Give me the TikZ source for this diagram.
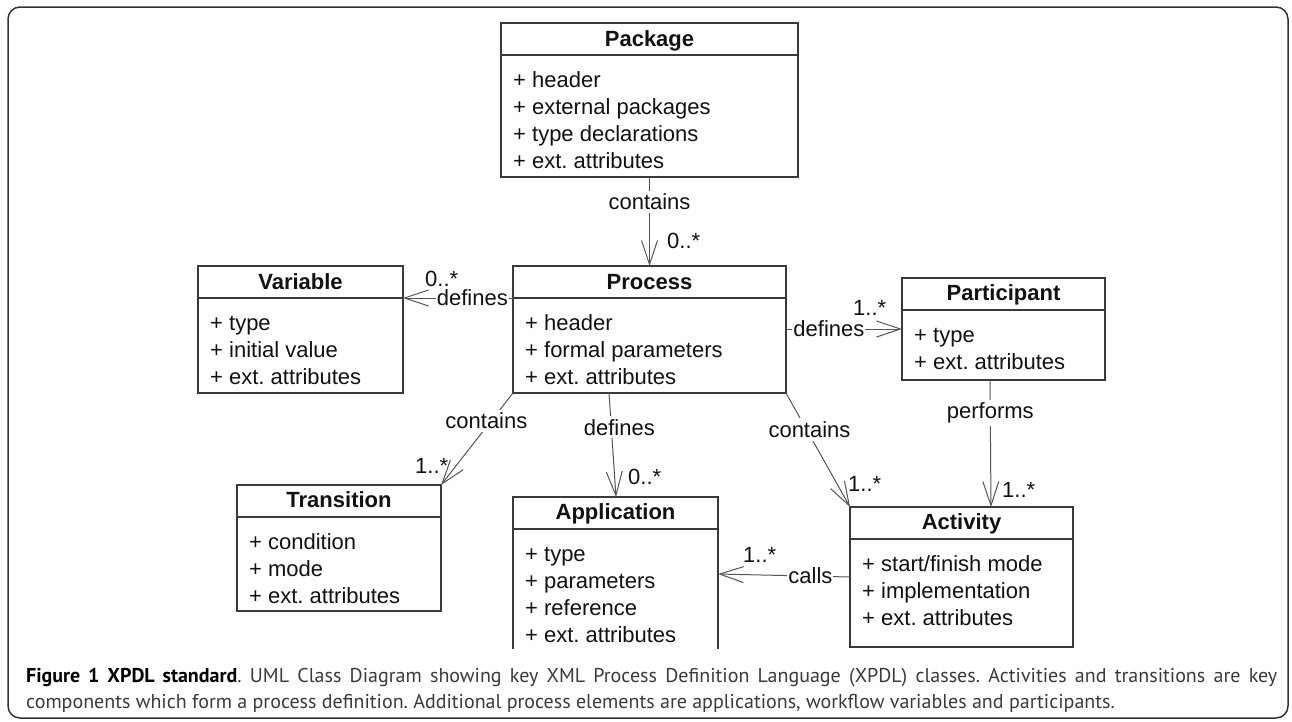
\documentclass[tikz,border=0pt]{standalone}
\usepackage{fontspec}
\setmainfont{Liberation Sans}
\newfontfamily\capfont{PT Sans}
\usetikzlibrary{arrows.meta}
\definecolor{boxcol}{HTML}{3A3A3A}
\definecolor{conncol}{HTML}{555555}
\definecolor{txtcol}{HTML}{111111}
\definecolor{framecol}{HTML}{333333}
\definecolor{capcol}{HTML}{3A3A3A}
\newcommand\umlitems[2]{%
  \foreach \t [count=\i] in {#2}
    \node[itemtxt] at ([xshift=12pt,yshift={-37pt-27pt*\i}]#1.north west) {\t};}
\begin{document}
\frenchspacing
\begin{tikzpicture}[x=1pt,y=-1pt,
  diafont/.style={font=\fontsize{22}{26}\selectfont},
  classbox/.style={draw=boxcol, line width=1.2pt, inner sep=0pt, outer sep=0pt, anchor=north west},
  openbox/.style={inner sep=0pt, outer sep=0pt, anchor=north west},
  boxline/.style={draw=boxcol, line width=1.2pt},
  titletxt/.style={diafont, font=\fontsize{22}{26}\selectfont\bfseries, anchor=base, inner sep=0pt, text=txtcol},
  itemtxt/.style={diafont, anchor=base west, inner sep=0pt, text=txtcol},
  conn/.style={draw=conncol, line width=1pt, -{Straight Barb[length=24pt,width=16pt]}},
  lbl/.style={diafont, fill=white, inner xsep=1.5pt, inner ysep=3pt, text=txtcol},
  hlbl/.style={diafont, fill=white, inner xsep=1pt, inner ysep=1pt, anchor=base, yshift=-7pt, text=txtcol},
  mult/.style={diafont, anchor=base west, inner sep=0pt, text=txtcol},
  captxt/.style={anchor=base west, inner sep=0pt, font=\capfont\fontsize{20}{26}\selectfont\frenchspacing, text=capcol}]
\useasboundingbox (0,0) rectangle (1292,721);
\draw[framecol, line width=1.5pt, rounded corners=12pt] (8,7) rectangle (1288,718);

% classes
\node[classbox, minimum width=297pt, minimum height=154pt] (pkg) at (501,23) {};
\node[classbox, minimum width=273pt, minimum height=127pt] (proc) at (513,266) {};
\node[classbox, minimum width=205pt, minimum height=127pt] (var) at (198,266) {};
\node[classbox, minimum width=203pt, minimum height=102pt] (part) at (902,278) {};
\node[classbox, minimum width=204pt, minimum height=126pt] (trans) at (237,485) {};
\node[openbox, minimum width=205pt, minimum height=152pt] (app) at (513,497) {};
\draw[boxline] (app.south west) -- (app.north west) -- (app.north east) -- (app.south east);
\node[classbox, minimum width=223pt, minimum height=140pt] (act) at (850,507) {};

\foreach \n in {pkg,proc,var,part,trans,app,act}
  \draw[boxline] ([yshift=-32pt]\n.north west) -- ([yshift=-32pt]\n.north east);

\node[titletxt] at ([yshift=-23pt]pkg.north) {Package};
\node[titletxt] at ([yshift=-23pt]proc.north) {Process};
\node[titletxt] at ([yshift=-23pt]var.north) {Variable};
\node[titletxt] at ([yshift=-22pt]part.north) {Participant};
\node[titletxt] at ([yshift=-22pt]trans.north) {Transition};
\node[titletxt] at ([yshift=-22pt]app.north) {Application};
\node[titletxt] at ([yshift=-22pt]act.north) {Activity};

\umlitems{pkg}{+ header, + external packages, + type declarations, + ext. attributes}
\umlitems{proc}{+ header, + formal parameters, + ext. attributes}
\umlitems{var}{+ type, + initial value, + ext. attributes}
\umlitems{part}{+ type, + ext. attributes}
\umlitems{trans}{+ condition, + mode, + ext. attributes}
\umlitems{app}{+ type, + parameters, + reference, + ext. attributes}
\umlitems{act}{+ start/finish mode, + implementation, + ext. attributes}

% connectors
\draw[conn] (pkg.south) -- node[lbl,pos=0.28]{contains} (proc.north);
\draw[conn] ([yshift=-32pt]proc.north west) -- node[hlbl,pos=0.37]{defines} ([yshift=-32pt]var.north east);
\draw[conn] ([yshift=-63pt]proc.north east) -- node[hlbl,pos=0.37]{defines} ([yshift=-51pt]part.north west);
\draw[conn] (proc.south west) -- node[lbl,pos=0.3,xshift=-5pt]{contains} (trans.north east);
\draw[conn] ([xshift=96pt]proc.south west) -- node[lbl,pos=0.33,xshift=8pt]{defines} ([xshift=103pt]app.north west);
\draw[conn] (proc.south east) -- node[lbl,pos=0.32,xshift=3pt]{contains} (act.north west);
\draw[conn] ([xshift=88pt]part.south west) -- node[lbl,pos=0.26]{performs} ([xshift=141pt]act.north west);
\draw[conn] ([yshift=-70pt]act.north west) -- node[hlbl,pos=0.30]{calls} ([yshift=-77pt]app.north east);

% multiplicities
\node[mult] (m1) at (667,248) {0..*};
\node[mult] (m2) at (425,286) {0..*};
\node[mult] (m3) at (853,315) {1..*};
\node[mult] (m4) at (415,473) {1..*};
\node[mult] (m5) at (628,484) {0..*};
\node[mult] (m6) at (848,491) {1..*};
\node[mult] (m7) at (1002,497) {1..*};
\node[mult] (m8) at (743,562) {1..*};

% caption
\node[captxt] (cap1) at (26,682)
  {\makebox[1251pt][s]{{\color{black}\bfseries Figure 1 XPDL standard}. UML Class Diagram showing key XML Process Definition Language (XPDL) classes. Activities and transitions are key}};
\node[captxt] (cap2) at (26,708)
  {components which form a process definition. Additional process elements are applications, workflow variables and participants.};
\end{tikzpicture}
\end{document}
